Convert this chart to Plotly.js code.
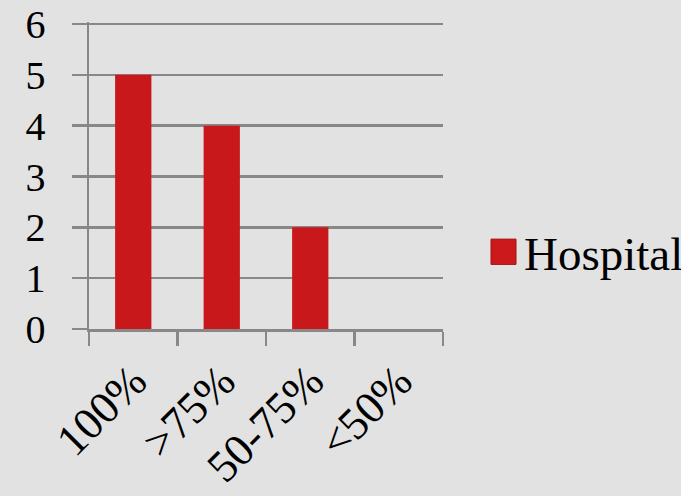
<!DOCTYPE html>
<html>
<head>
<meta charset="utf-8">
<script src="https://cdn.plot.ly/plotly-3.0.1.min.js"></script>
<style>
html,body{margin:0;padding:0;background:#e2e2e2;}
#chart{width:681px;height:496px;}
</style>
</head>
<body>
<div id="chart"></div>
<script>
const categories = ["100%", ">75%", "50-75%", "<50%"];
const hospitalValues = [5, 4, 2, 0];
const yTickValues = [0, 1, 2, 3, 4, 5, 6];
const seriesName = "Hospital";

const trace = {
  type: "bar",
  x: categories,
  y: hospitalValues,
  name: seriesName,
  showlegend: false,
  marker: {color: "#c8181b"},
  hoverinfo: "x+y"
};

const serif = "Liberation Serif";
const layout = {
  width: 681, height: 496,
  margin: {l: 89, r: 238, t: 22, b: 167, pad: 0},
  paper_bgcolor: "#e2e2e2",
  plot_bgcolor: "rgba(0,0,0,0)",
  bargap: 0.59,
  font: {family: serif, color: "#000", size: 40},
  xaxis: {
    type: "category",
    tickangle: -45,
    tickson: "boundaries",
    ticks: "outside", ticklen: 14, tickwidth: 2.5, tickcolor: "#888",
    showline: true, linecolor: "#888", linewidth: 2.5,
    showgrid: false, zeroline: false,
    ticklabelstandoff: 5,
    tickfont: {family: serif, size: 45, color: "#000"},
    fixedrange: true
  },
  yaxis: {
    range: [0, 6.04],
    tickvals: yTickValues,
    ticks: "outside", ticklen: 15, tickwidth: 2.5, tickcolor: "#888",
    showline: true, linecolor: "#888", linewidth: 2.5,
    showgrid: true, gridcolor: "#888", gridwidth: 2.5,
    zeroline: false,
    ticklabelstandoff: 18,
    tickfont: {family: serif, size: 40, color: "#000"},
    fixedrange: true
  },
  showlegend: false,
  shapes: [{
    type: "rect", xref: "paper", yref: "paper",
    x0: 1.1356, x1: 1.2062, y0: 0.2105, y1: 0.2928,
    fillcolor: "#cc1a1c", line: {color: "#a01010", width: 1}
  }],
  annotations: [{
    xref: "paper", yref: "paper",
    x: 1.223, y: 0.243, xanchor: "left", yanchor: "middle",
    text: seriesName, showarrow: false,
    font: {family: serif, size: 47, color: "#000"}
  }]
};

Plotly.newPlot("chart", [trace], layout, {displayModeBar: false, staticPlot: true});
</script>
</body>
</html>
